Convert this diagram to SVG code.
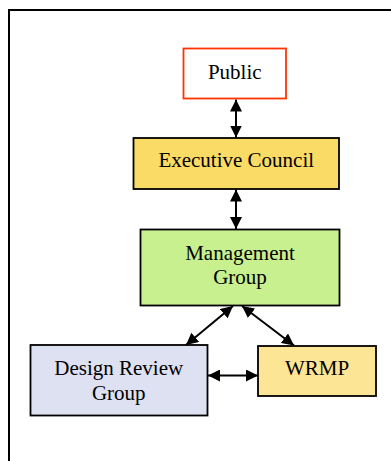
<svg xmlns="http://www.w3.org/2000/svg" width="391" height="461" viewBox="0 0 391 461">
<style>
.box{stroke:#000;stroke-width:1.8}
.t{font-family:"Liberation Serif","Times New Roman",serif;font-size:21px;fill:#000;text-anchor:middle}
.c{stroke:#000;stroke-width:2;fill:none;marker-start:url(#ah);marker-end:url(#ah)}
</style>
<defs>
<marker id="ah" markerUnits="userSpaceOnUse" markerWidth="12" markerHeight="12" refX="12" refY="6" orient="auto-start-reverse" viewBox="0 0 12 12">
<path d="M0,0 L12,6 L0,12 z" fill="#000"/>
</marker>
</defs>
<rect x="0" y="0" width="391" height="461" fill="#fff"/>
<path d="M9,461 V10 H391" fill="none" stroke="#000" stroke-width="2"/>
<g id="connectors">
<line class="c" x1="236" y1="99.5" x2="236" y2="137.5"/>
<line class="c" x1="236" y1="189.5" x2="236" y2="229"/>
<line class="c" x1="233" y1="306" x2="186" y2="345"/>
<line class="c" x1="242" y1="306" x2="294" y2="345.5"/>
<line class="c" x1="208" y1="375.5" x2="258" y2="375.5"/>
</g>
<g id="public">
<rect x="183.5" y="48.5" width="102.5" height="50" fill="#fff" stroke="#ff3300" stroke-width="1.8"/>
<text class="t" x="234.75" y="78.5">Public</text>
</g>
<g id="executive-council">
<rect class="box" x="133.5" y="138" width="205.5" height="51" fill="#fadb66"/>
<text class="t" x="236.25" y="166.5">Executive Council</text>
</g>
<g id="management-group">
<rect class="box" x="140.5" y="229.5" width="199" height="76" fill="#c8f08f"/>
<text class="t" x="240" y="260">Management</text>
<text class="t" x="240" y="284">Group</text>
</g>
<g id="design-review-group">
<rect class="box" x="30.5" y="345" width="177" height="70.5" fill="#dee1f2"/>
<text class="t" x="118.75" y="375">Design Review</text>
<text class="t" x="118.75" y="400">Group</text>
</g>
<g id="wrmp">
<rect class="box" x="258" y="346" width="118" height="50" fill="#fce595"/>
<text class="t" x="317" y="375">WRMP</text>
</g>
</svg>
